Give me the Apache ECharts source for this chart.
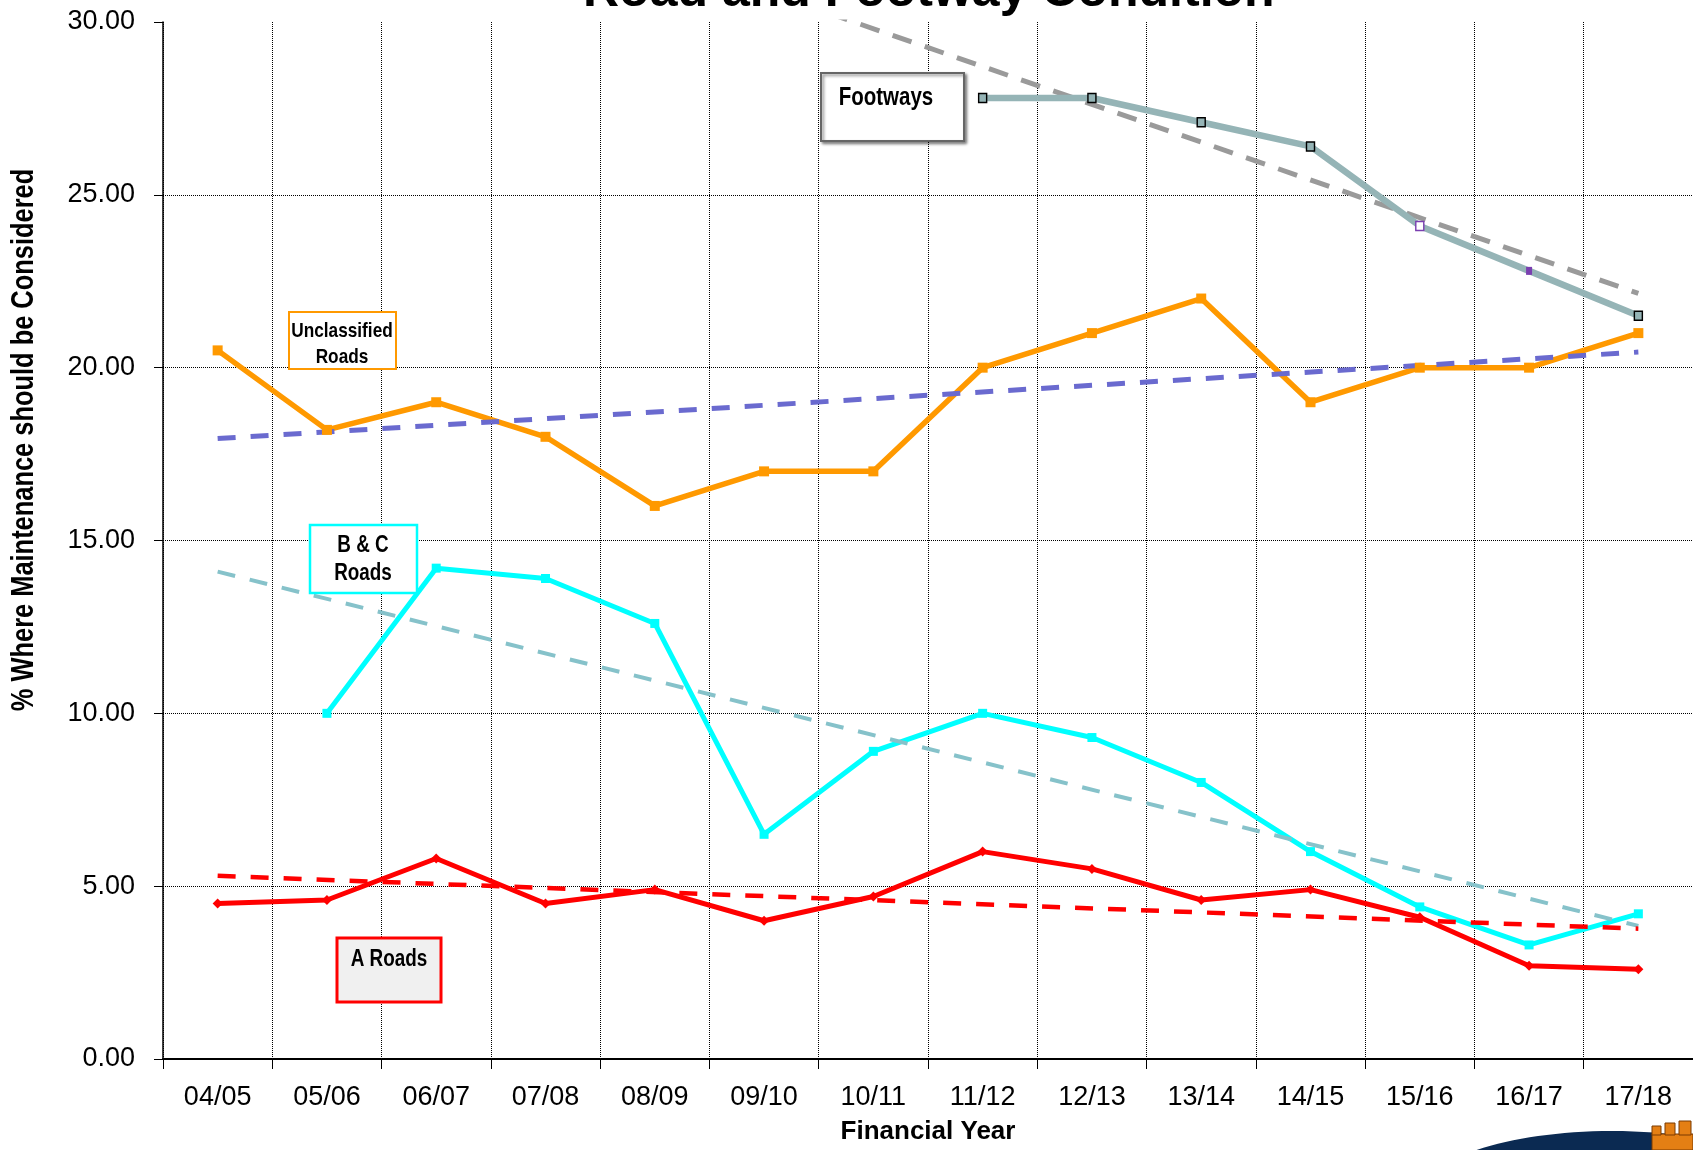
<!DOCTYPE html>
<html>
<head>
<meta charset="utf-8">
<title>Road and Footway Condition</title>
<script src="https://cdn.jsdelivr.net/npm/echarts@6/dist/echarts.min.js"></script>
<style>
html, body { margin: 0; padding: 0; background: #fff; }
#main { width: 1693px; height: 1150px; }
</style>
</head>
<body>
<div id="main"></div>
<script>
// financial years on the x axis
var years = ['04/05', '05/06', '06/07', '07/08', '08/09', '09/10', '10/11',
             '11/12', '12/13', '13/14', '14/15', '15/16', '16/17', '17/18'];

// % where maintenance should be considered
var aRoads       = [4.5, 4.6, 5.8, 4.5, 4.9, 4.0, 4.7, 6.0, 5.5, 4.6, 4.9, 4.1, 2.7, 2.6];
var bcRoads      = [null, 10.0, 14.2, 13.9, 12.6, 6.5, 8.9, 10.0, 9.3, 8.0, 6.0, 4.4, 3.3, 4.2];
var unclassified = [20.5, 18.2, 19.0, 18.0, 16.0, 17.0, 17.0, 20.0, 21.0, 22.0, 19.0, 20.0, 20.0, 21.0];
var footways     = [null, null, null, null, null, null, null, 27.8, 27.8, 27.1, 26.4, 24.1, 22.8, 21.5];

// trend lines: value at first and last year index they span
var aTrend     = [5.30, 3.77];
var bcTrend    = [14.1, 3.85];
var unclTrend  = [17.95, 20.45];
var footTrend  = [30.9, 22.15];   // starts at 09/10, clipped by the 30 ceiling

var yTicks = [0, 5, 10, 15, 20, 25, 30];

var sans = "'Liberation Sans', Arial, sans-serif";

function trend(from, to, ends) {
    var d = years.map(function () { return null; });
    d[from] = ends[0];
    d[to] = ends[1];
    return d;
}

// footway markers for 15/16 and 16/17 are purple in the original
var footData = footways.map(function (v, i) {
    if (i === 11) return { value: v, itemStyle: { color: '#ffffff', borderColor: '#7a3fb0', borderWidth: 1.5 } };
    if (i === 12) return { value: v, symbolSize: [6, 8], itemStyle: { color: '#7a3fb0', borderColor: '#7a3fb0', borderWidth: 0 } };
    return v;
});

var myChart = echarts.init(document.getElementById('main'), null, { renderer: 'canvas' });

// little text boxes that stand in for a legend (text squeezed to look like Arial Narrow)
function labelBox(x, y, w, h, border, fill, text, fontSize, lineH, textX, textY, bw, shadow) {
    return {
        type: 'group',
        children: [
            {
                type: 'rect',
                shape: { x: x, y: y, width: w, height: h },
                style: {
                    fill: fill, stroke: border, lineWidth: bw,
                    shadowBlur: shadow ? 3 : 0, shadowColor: 'rgba(0,0,0,0.45)',
                    shadowOffsetX: shadow ? 2 : 0, shadowOffsetY: shadow ? 2 : 0
                },
                z: 100
            },
            {
                type: 'text',
                x: textX,
                y: textY,
                scaleX: 0.82,
                style: {
                    text: text, fill: '#000',
                    font: 'bold ' + fontSize + 'px ' + sans,
                    align: 'center', verticalAlign: 'middle',
                    lineHeight: lineH
                },
                z: 101
            }
        ]
    };
}

var option = {
    backgroundColor: '#ffffff',
    animation: false,
    title: {
        text: 'Road and Footway Condition',
        left: 578,
        top: -38,
        textStyle: { fontFamily: sans, fontWeight: 'bold', fontSize: 50, color: '#000' }
    },
    grid: { left: 163, right: 0, top: 22, bottom: 79 },
    xAxis: {
        type: 'category',
        data: years,
        boundaryGap: true,
        name: 'Financial Year',
        nameLocation: 'middle',
        nameGap: 60,
        nameTextStyle: { fontFamily: sans, fontWeight: 'bold', fontSize: 26, color: '#000' },
        axisLine: { lineStyle: { color: '#000', width: 2 } },
        axisTick: { show: true, inside: false, length: 10, lineStyle: { color: '#000' } },
        axisLabel: { margin: 25, fontFamily: sans, fontSize: 27, color: '#000' },
        splitLine: { show: true, lineStyle: { color: '#000', type: 'dotted', width: 1 } }
    },
    yAxis: {
        type: 'value',
        min: yTicks[0],
        max: yTicks[yTicks.length - 1],
        interval: 5,
        axisLine: { show: true, lineStyle: { color: '#000', width: 1.5 } },
        axisTick: { show: true, inside: false, length: 9, lineStyle: { color: '#000' } },
        axisLabel: {
            margin: 28, fontFamily: sans, fontSize: 27, color: '#000',
            formatter: function (v) { return v.toFixed(2); }
        },
        splitLine: { show: true, showMaxLine: false, lineStyle: { color: '#000', type: 'dotted', width: 1 } }
    },
    series: [
        {
            name: 'Unclassified Roads', type: 'line', data: unclassified,
            symbol: 'rect', symbolSize: 10,
            lineStyle: { color: '#ff9900', width: 5.5 },
            itemStyle: { color: '#ff9900' }
        },
        {
            name: 'B & C Roads', type: 'line', data: bcRoads,
            symbol: 'rect', symbolSize: 9,
            lineStyle: { color: '#00ffff', width: 5 },
            itemStyle: { color: '#00ffff' }
        },
        {
            name: 'A Roads', type: 'line', data: aRoads,
            symbol: 'diamond', symbolSize: 10,
            lineStyle: { color: '#ff0000', width: 5 },
            itemStyle: { color: '#ff0000' }
        },
        {
            name: 'Footways', type: 'line', data: footData,
            symbol: 'rect', symbolSize: [8, 9],
            lineStyle: { color: '#95b4b6', width: 6.5 },
            itemStyle: { color: '#95b4b6', borderColor: '#000', borderWidth: 1.5 },
            z: 3
        },
        {
            name: 'Unclassified trend', type: 'line', data: trend(0, 13, unclTrend),
            connectNulls: true, showSymbol: false, silent: true,
            lineStyle: { color: '#6a6acf', width: 5, type: [18, 15] }
        },
        {
            name: 'B & C trend', type: 'line', data: trend(0, 13, bcTrend),
            connectNulls: true, showSymbol: false, silent: true,
            lineStyle: { color: '#86c2ca', width: 4, type: [18, 15] }
        },
        {
            name: 'A trend', type: 'line', data: trend(0, 13, aTrend),
            connectNulls: true, showSymbol: false, silent: true,
            lineStyle: { color: '#ff0000', width: 4.5, type: [18, 15] }
        },
        {
            name: 'Footway trend', type: 'line', data: trend(5, 13, footTrend),
            connectNulls: true, showSymbol: false, silent: true, clip: true,
            lineStyle: { color: '#9a9a9a', width: 5, type: [20, 14] },
            z: 2
        }
    ],
    graphic: [
        {
            type: 'text',
            x: 24, y: 440,
            rotation: Math.PI / 2,
            scaleX: 0.82,
            style: {
                text: '% Where Maintenance should be Considered',
                font: 'bold 31px ' + sans,
                fill: '#000', align: 'center', verticalAlign: 'middle'
            }
        },
        labelBox(821, 73, 143, 68, '#666666', '#ffffff', 'Footways', 25, 28, 886, 98, 2, true),
        labelBox(289, 312, 107, 57, '#ff9900', '#ffffff', 'Unclassified\nRoads', 21, 26, 342, 344, 2, false),
        labelBox(310, 525, 107, 68, '#00ffff', '#ffffff', 'B & C\nRoads', 23, 28, 363, 560, 2.5, false),
        labelBox(337, 938, 104, 64, '#ff0000', '#f0f0f0', 'A Roads', 23, 28, 389, 960, 3, false),
        // corner logo fragment
        {
            type: 'ellipse',
            shape: { cx: 1612, cy: 1203, rx: 200, ry: 72 },
            style: { fill: '#0b2a52' }
        },
        {
            type: 'group',
            children: [
                { type: 'rect', shape: { x: 1652, y: 1134, width: 41, height: 16 }, style: { fill: '#e47f14', stroke: '#7a3a00', lineWidth: 1 } },
                { type: 'rect', shape: { x: 1652, y: 1126, width: 9, height: 9 }, style: { fill: '#e47f14', stroke: '#7a3a00', lineWidth: 1 } },
                { type: 'rect', shape: { x: 1665, y: 1123, width: 10, height: 12 }, style: { fill: '#e47f14', stroke: '#7a3a00', lineWidth: 1 } },
                { type: 'rect', shape: { x: 1679, y: 1121, width: 12, height: 14 }, style: { fill: '#e47f14', stroke: '#7a3a00', lineWidth: 1 } }
            ]
        }
    ]
};

myChart.setOption(option);
</script>
</body>
</html>
